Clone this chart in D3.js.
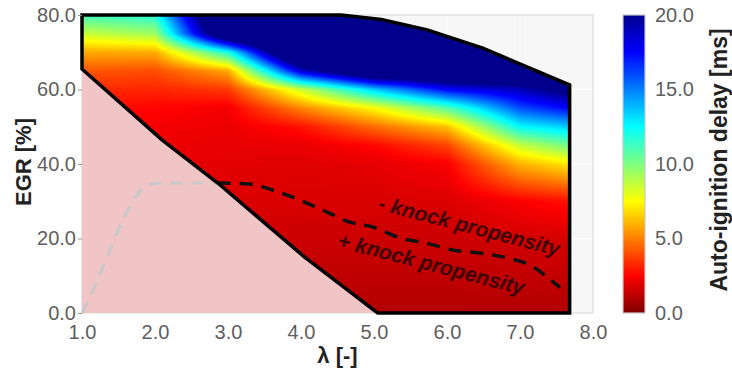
<!DOCTYPE html>
<html>
<head>
<meta charset="utf-8">
<script src="https://cdn.jsdelivr.net/npm/d3@7"></script>
<style>
  html, body { margin: 0; padding: 0; background: #ffffff; }
  svg { display: block; font-family: "Liberation Sans", Arial, Helvetica, sans-serif; }
</style>
</head>
<body>
<svg id="chart" width="732" height="374"></svg>
<script>
// ---------------- data ----------------
const lambdaGrid = [1, 2, 3, 4, 5, 6, 7, 7.7];
const egrGrid = [0, 10, 20, 30, 40, 45, 50, 55, 60, 65, 70, 75, 80];
// auto-ignition delay [ms]; one row per lambda value, columns follow egrGrid
const delayGrid = [
  [1.0, 1.25, 1.55, 1.85, 2.1, 2.3, 2.5, 2.8, 3.3, 4.2, 5.8, 8.6, 11.2],
  [1.0, 1.25, 1.55, 1.85, 2.05, 2.15, 2.3, 2.55, 3.2, 4.0, 5.9, 9.4, 11.8],
  [1.0, 1.25, 1.55, 1.8, 1.95, 2.05, 2.15, 2.3, 3.6, 5.8, 12, 24, 26],
  [1.0, 1.25, 1.5, 1.75, 1.9, 2.1, 2.8, 5.1, 8.5, 18.5, 26, 28, 30],
  [1.0, 1.25, 1.5, 1.75, 2.0, 2.6, 4.6, 7.5, 13.5, 24, 28, 30, 30],
  [1.0, 1.25, 1.5, 1.8, 2.4, 3.8, 6.3, 10.8, 17.5, 24, 28, 30, 30],
  [1.0, 1.3, 1.6, 2.45, 6.0, 8.6, 12.5, 16, 19, 24, 28, 30, 30],
  [1.0, 1.35, 1.7, 2.8, 7.1, 10.3, 13.5, 17.5, 21, 24, 28, 30, 30]
];
// operating-range boundary [lambda, EGR]
const upperBoundary = [[1, 80], [4.55, 80], [5.1, 78.8], [5.73, 76], [6.49, 71.1], [7.68, 61.2], [7.68, 0]];
const lowerBoundary = [[5.05, 0], [4.05, 15], [2.86, 34.9], [2.1, 46.4], [1, 65.5]];
// knock limit lines [lambda, EGR]
const knockLineOutside = [[1, 0], [1.15, 6], [1.32, 14], [1.6, 26.5], [1.82, 33.2], [2.05, 34.9], [2.86, 34.9]];
const knockLineInside = [[2.86, 34.9], [3.3, 34.6], [3.7, 32.4], [4.0, 30.2], [4.3, 27.6], [4.67, 24.4], [5.0, 23.0],
  [5.36, 20.1], [5.73, 18.7], [6.08, 16.9], [6.49, 16.0], [6.82, 14.8], [7.18, 12.4], [7.38, 9.5], [7.55, 6.8]];
const xTicks = [1, 2, 3, 4, 5, 6, 7, 8];
const yTicks = [0, 20, 40, 60, 80];
const cbTicks = [0, 5, 10, 15, 20];
const annotations = [
  { text: "- knock propensity", lam: 6.28, egr: 21.5 },
  { text: "+ knock propensity", lam: 5.76, egr: 11.3 }
];

// ---------------- layout ----------------
const svg = d3.select("#chart");
const x = d3.scaleLinear().domain([1, 8]).range([82, 593]);
const y = d3.scaleLinear().domain([0, 80]).range([313, 15]);
const cbY = d3.scaleLinear().domain([0, 20]).range([313, 15]);

// jet colormap (MATLAB style), reversed: 0 -> dark red, 20 -> dark blue
const jetR = d3.scaleLinear().domain([0, 0.375, 0.625, 0.875, 1]).range([0, 0, 1, 1, 0.5]).clamp(true);
const jetG = d3.scaleLinear().domain([0, 0.125, 0.375, 0.625, 0.875, 1]).range([0, 0, 1, 1, 0, 0]).clamp(true);
const jetB = d3.scaleLinear().domain([0, 0.125, 0.375, 0.625, 1]).range([0.55, 1, 1, 0, 0]).clamp(true);
const tScale = d3.scaleLinear().domain([0, 20]).range([1, 0]).clamp(true);
function colorRGB(v) {
  const t = tScale(v);
  return [Math.round(jetR(t) * 255), Math.round(jetG(t) * 255), Math.round(jetB(t) * 255)];
}

// bilinear lookup of the delay grid
function delayAt(lam, egr) {
  let i = d3.bisectRight(lambdaGrid, lam) - 1;
  i = Math.max(0, Math.min(lambdaGrid.length - 2, i));
  let j = d3.bisectRight(egrGrid, egr) - 1;
  j = Math.max(0, Math.min(egrGrid.length - 2, j));
  const fx = Math.max(0, Math.min(1, (lam - lambdaGrid[i]) / (lambdaGrid[i + 1] - lambdaGrid[i])));
  const fy = Math.max(0, Math.min(1, (egr - egrGrid[j]) / (egrGrid[j + 1] - egrGrid[j])));
  const a = delayGrid[i][j], b = delayGrid[i + 1][j], c = delayGrid[i][j + 1], d = delayGrid[i + 1][j + 1];
  return a * (1 - fx) * (1 - fy) + b * fx * (1 - fy) + c * (1 - fx) * fy + d * fx * fy;
}

// plot background
svg.append("rect")
  .attr("x", x(1)).attr("y", y(80))
  .attr("width", x(8) - x(1)).attr("height", y(0) - y(80))
  .attr("fill", "#f7f7f7");
svg.append("g").selectAll("line.gx").data(xTicks.slice(1, -1)).join("line")
  .attr("x1", d => x(d)).attr("x2", d => x(d)).attr("y1", y(80)).attr("y2", y(0))
  .attr("stroke", "#ffffff").attr("stroke-width", 1);
svg.append("g").selectAll("line.gy").data(yTicks.slice(1, -1)).join("line")
  .attr("x1", x(1)).attr("x2", x(8)).attr("y1", d => y(d)).attr("y2", d => y(d))
  .attr("stroke", "#ffffff").attr("stroke-width", 1);
svg.append("rect")
  .attr("x", x(1)).attr("y", y(80))
  .attr("width", x(8) - x(1)).attr("height", y(0) - y(80))
  .attr("fill", "none").attr("stroke", "#dcdcdc").attr("stroke-width", 1.2);

// pink region (outside the operating range)
const line = d3.line().x(d => x(d[0])).y(d => y(d[1]));
svg.append("path")
  .attr("d", line([[1, 0]].concat(lowerBoundary.slice().reverse()).concat([[5.05, 0]])) + "Z")
  .attr("fill", "#f1c5c5");

// heatmap raster
const polygon = upperBoundary.concat(lowerBoundary);
const W = Math.round(x(8) - x(1)), H = Math.round(y(0) - y(80));
const canvas = document.createElement("canvas");
canvas.width = W; canvas.height = H;
const ctx = canvas.getContext("2d");
const img = ctx.createImageData(W, H);
for (let py = 0; py < H; py++) {
  const egr = y.invert(y(80) + py + 0.5);
  for (let px = 0; px < W; px++) {
    const lam = x.invert(x(1) + px + 0.5);
    const c = colorRGB(delayAt(lam, egr));
    const k = (py * W + px) * 4;
    img.data[k] = c[0]; img.data[k + 1] = c[1]; img.data[k + 2] = c[2]; img.data[k + 3] = 255;
  }
}
ctx.putImageData(img, 0, 0);
svg.append("clipPath").attr("id", "rangeClip")
  .append("path").attr("d", line(polygon) + "Z");
svg.append("image")
  .attr("href", canvas.toDataURL())
  .attr("x", x(1)).attr("y", y(80)).attr("width", W).attr("height", H)
  .attr("preserveAspectRatio", "none")
  .attr("clip-path", "url(#rangeClip)");

// knock lines
const curve = d3.line().x(d => x(d[0])).y(d => y(d[1])).curve(d3.curveMonotoneX);
svg.append("path").attr("d", curve(knockLineOutside))
  .attr("fill", "none").attr("stroke", "#c9c9c9").attr("stroke-width", 3.2)
  .attr("stroke-dasharray", "12,9");
svg.append("path").attr("d", curve(knockLineInside))
  .attr("fill", "none").attr("stroke", "#111").attr("stroke-width", 3.5)
  .attr("stroke-dasharray", "13,9");

// boundary outline
svg.append("path").attr("d", line(polygon) + "Z")
  .attr("fill", "none").attr("stroke", "#000").attr("stroke-width", 3.5)
  .attr("stroke-linejoin", "miter");

// annotations
svg.append("g").selectAll("text").data(annotations).join("text")
  .attr("transform", d => `translate(${x(d.lam)},${y(d.egr)}) rotate(14.5)`)
  .attr("text-anchor", "middle")
  .attr("font-size", 21).attr("font-weight", "bold").attr("font-style", "italic")
  .attr("fill", "#2a0000").attr("fill-opacity", 0.9)
  .text(d => d.text);

// axes
const fmt = d3.format(".1f");
const xAxis = svg.append("g").attr("transform", `translate(0,${y(0)})`)
  .call(d3.axisBottom(x).tickValues(xTicks).tickFormat(fmt).tickSize(0).tickPadding(12));
const yAxis = svg.append("g").attr("transform", `translate(${x(1)},0)`)
  .call(d3.axisLeft(y).tickValues(yTicks).tickFormat(fmt).tickSize(4).tickPadding(2));
[xAxis, yAxis].forEach(g => {
  g.select(".domain").remove();
  g.selectAll("text").attr("font-size", 20).attr("fill", "#5e5e5e").attr("font-family", "Liberation Sans, Arial, sans-serif");
  g.selectAll("line").attr("stroke", "#999");
});

svg.append("text").attr("x", (x(1) + x(8)) / 2).attr("y", 363)
  .attr("text-anchor", "middle").attr("font-size", 22).attr("font-weight", "bold").attr("fill", "#222")
  .text("λ [-]");
svg.append("text").attr("transform", `translate(31,162) rotate(-90)`)
  .attr("text-anchor", "middle").attr("font-size", 22).attr("font-weight", "bold").attr("fill", "#222")
  .text("EGR [%]");

// colorbar
const defs = svg.append("defs");
const grad = defs.append("linearGradient").attr("id", "cbGrad")
  .attr("x1", 0).attr("x2", 0).attr("y1", 1).attr("y2", 0);
grad.selectAll("stop").data(d3.range(0, 20.01, 0.5)).join("stop")
  .attr("offset", d => d / 20)
  .attr("stop-color", d => { const c = colorRGB(d); return `rgb(${c[0]},${c[1]},${c[2]})`; });
svg.append("rect").attr("x", 623).attr("y", cbY(20)).attr("width", 22).attr("height", cbY(0) - cbY(20))
  .attr("fill", "url(#cbGrad)").attr("stroke", "#c8c8c8").attr("stroke-width", 1.2);
const cbAxis = svg.append("g").attr("transform", "translate(645,0)")
  .call(d3.axisRight(cbY).tickValues(cbTicks).tickFormat(fmt).tickSize(0).tickPadding(10));
cbAxis.select(".domain").remove();
cbAxis.selectAll("text").attr("font-size", 20).attr("fill", "#5e5e5e").attr("font-family", "Liberation Sans, Arial, sans-serif");
svg.append("text").attr("transform", `translate(727,160) rotate(-90)`)
  .attr("text-anchor", "middle").attr("font-size", 23).attr("font-weight", "bold").attr("fill", "#222")
  .text("Auto-ignition delay [ms]");
</script>
</body>
</html>
